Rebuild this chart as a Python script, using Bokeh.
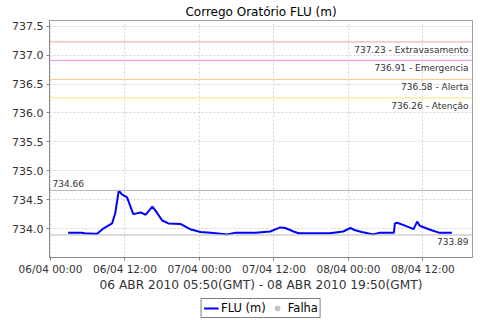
import pandas as pd
from bokeh.plotting import figure
from bokeh.layouts import column
from bokeh.models import (FixedTicker, DatetimeTickFormatter, NumeralTickFormatter,
                          Span, Label, Legend, LegendItem, ColumnDataSource, Range1d)
from bokeh.embed import file_html
from bokeh.resources import INLINE

# ---- data ----
times = ["2010-04-06 02:50", "2010-04-06 05:00", "2010-04-06 05:30", "2010-04-06 06:55",
         "2010-04-06 07:30", "2010-04-06 08:30", "2010-04-06 09:55", "2010-04-06 10:25",
         "2010-04-06 11:00", "2010-04-06 11:30", "2010-04-06 12:20", "2010-04-06 13:20",
         "2010-04-06 14:30", "2010-04-06 15:20", "2010-04-06 16:25", "2010-04-06 16:55",
         "2010-04-06 18:00", "2010-04-06 19:00", "2010-04-06 20:55", "2010-04-06 22:30",
         "2010-04-07 00:10", "2010-04-07 01:50", "2010-04-07 04:30", "2010-04-07 05:50",
         "2010-04-07 09:00", "2010-04-07 11:25", "2010-04-07 13:00", "2010-04-07 13:50",
         "2010-04-07 15:10", "2010-04-07 16:00", "2010-04-07 21:00", "2010-04-07 23:10",
         "2010-04-08 00:20", "2010-04-08 01:05", "2010-04-08 02:10", "2010-04-08 04:00",
         "2010-04-08 05:05", "2010-04-08 07:20", "2010-04-08 07:30", "2010-04-08 07:50",
         "2010-04-08 08:55", "2010-04-08 10:30", "2010-04-08 11:05", "2010-04-08 11:30",
         "2010-04-08 13:10", "2010-04-08 14:35", "2010-04-08 16:40"]
levels = [733.93, 733.93, 733.92, 733.91, 733.91, 734.00, 734.09, 734.26,
          734.66, 734.59, 734.54, 734.25, 734.28, 734.24, 734.38, 734.31,
          734.14, 734.09, 734.08, 733.99, 733.94, 733.93, 733.90, 733.93,
          733.93, 733.95, 734.02, 734.01, 733.95, 733.92, 733.92, 733.95,
          734.01, 733.97, 733.94, 733.90, 733.93, 733.93, 734.09, 734.10,
          734.06, 733.99, 734.12, 734.05, 733.98, 733.93, 733.93]

threshold_values = [737.23, 736.91, 736.58, 736.26]
threshold_names = ["Extravasamento", "Emergencia", "Alerta", "Atenção"]
threshold_colors = ["#eea0a0", "#ff88ff", "#f8c890", "#f8e880"]

max_value = 734.66
min_value = 733.89

x_ticks = ["2010-04-06 00:00", "2010-04-06 12:00", "2010-04-07 00:00",
           "2010-04-07 12:00", "2010-04-08 00:00", "2010-04-08 12:00"]
y_ticks = [734.0, 734.5, 735.0, 735.5, 736.0, 736.5, 737.0, 737.5]

title_text = "Corrego Oratório FLU (m)"
x_label = "06 ABR 2010 05:50(GMT) - 08 ABR 2010 19:50(GMT)"
series_label = "FLU (m)"
fail_label = "Falha"

FONT = "DejaVu Sans"

t = pd.to_datetime(times)
src = ColumnDataSource(dict(t=t, v=levels))

x0 = pd.Timestamp("2010-04-05 23:50")
x1 = pd.Timestamp("2010-04-08 20:00")

p = figure(width=480, height=295, x_axis_type="datetime",
           x_range=Range1d(x0, x1), y_range=Range1d(733.5, 737.6),
           output_backend="svg", toolbar_location=None,
           min_border_left=49, min_border_right=8, min_border_top=19, min_border_bottom=38)

p.title.text = title_text
p.title.align = "center"
p.title.text_font = FONT
p.title.text_font_size = "12px"
p.title.text_font_style = "normal"
p.title.text_color = "#000000"
p.title.standoff = 4
p.title.offset = 0

p.outline_line_color = "#a0a0a0"
p.background_fill_color = "white"

xt = [pd.Timestamp(s).value / 1e6 for s in x_ticks]
p.xaxis.ticker = FixedTicker(ticks=xt)
p.xaxis.formatter = DatetimeTickFormatter(hours="%d/%m %H:%M", days="%d/%m %H:%M",
                                          minutes="%d/%m %H:%M", months="%d/%m %H:%M")
p.yaxis.ticker = FixedTicker(ticks=y_ticks)
p.yaxis.formatter = NumeralTickFormatter(format="0.0")

for ax in (p.xaxis, p.yaxis):
    ax.axis_line_color = "#888888"
    ax.major_tick_line_color = "#888888"
    ax.major_tick_out = 3
    ax.major_tick_in = 0
    ax.minor_tick_line_color = None
    ax.major_label_text_font = FONT
    ax.major_label_text_color = "#333333"
ax = p.xaxis
ax.major_label_text_font_size = "10.5px"
ax.major_label_standoff = 2
ax.axis_label = x_label
ax.axis_label_text_font = FONT
ax.axis_label_text_font_size = "12.2px"
ax.axis_label_text_font_style = "normal"
ax.axis_label_text_color = "#333333"
ax.axis_label_standoff = 0
p.yaxis.major_label_text_font_size = "11px"
p.yaxis.major_label_standoff = 3

p.xgrid.ticker = FixedTicker(ticks=xt)
p.ygrid.ticker = FixedTicker(ticks=y_ticks)
for g in (p.xgrid, p.ygrid):
    g.grid_line_color = "#d4d4d4"
    g.grid_line_dash = "2 2"

for val, name, col in zip(threshold_values, threshold_names, threshold_colors):
    p.add_layout(Span(location=val, dimension="width", line_color=col, line_width=1))
    p.add_layout(Label(x=x1, y=val, text=f"{val:.2f} - {name}", text_align="right",
                       text_baseline="top", x_offset=-4, y_offset=-3,
                       text_font=FONT, text_font_size="9px", text_color="#333333"))

p.add_layout(Span(location=max_value, dimension="width", line_color="#b8b8b8", line_width=1))
p.add_layout(Label(x=x0, y=max_value, text=f"{max_value:.2f}", text_align="left",
                   text_baseline="bottom", x_offset=3, y_offset=3,
                   text_font=FONT, text_font_size="9px", text_color="#333333"))
p.add_layout(Span(location=min_value, dimension="width", line_color="#b8b8b8", line_width=1))
p.add_layout(Label(x=x1, y=min_value, text=f"{min_value:.2f}", text_align="right",
                   text_baseline="top", x_offset=-4, y_offset=-3,
                   text_font=FONT, text_font_size="9px", text_color="#333333"))

p.line("t", "v", source=src, line_color="#0000ff", line_width=2)

# legend strip below the chart
lg = figure(width=480, height=25, x_range=Range1d(0, 1), y_range=Range1d(0, 1),
            output_backend="svg", toolbar_location=None,
            x_axis_location=None, y_axis_location=None,
            min_border_left=0, min_border_right=0, min_border_top=0, min_border_bottom=0)
lg.outline_line_color = None
lg.xgrid.visible = False
lg.ygrid.visible = False
r_line = lg.line(x=[float("nan")], y=[float("nan")], line_color="#0000ff", line_width=2)
r_fail = lg.scatter(x=[float("nan")], y=[float("nan")], size=8,
                    fill_color="#c0c0c0", line_color="#c0c0c0")
legend = Legend(items=[LegendItem(label=series_label, renderers=[r_line]),
                       LegendItem(label=fail_label, renderers=[r_fail])],
                orientation="horizontal", location="center",
                label_text_font=FONT, label_text_font_size="11.5px",
                label_text_color="#000000",
                border_line_color="black", border_line_width=1,
                padding=2, spacing=4, margin=0, glyph_width=15, glyph_height=12,
                label_standoff=3, label_height=12)
lg.add_layout(legend)

layout = column(p, lg, spacing=0)
open("out.html", "w").write(file_html(layout, INLINE))
